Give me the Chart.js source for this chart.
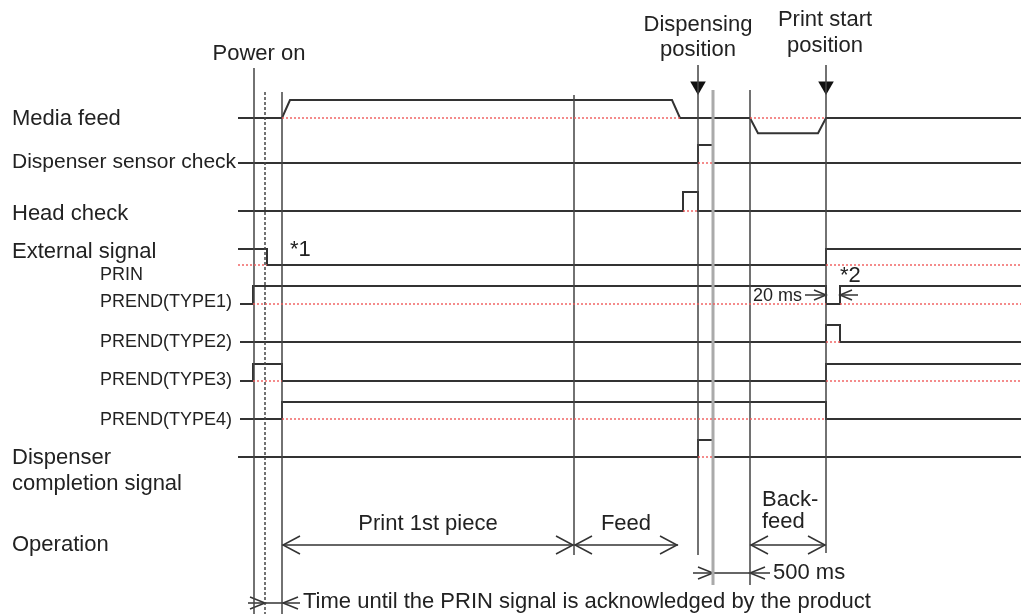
<!DOCTYPE html>
<html lang="en">
<head>
<meta charset="UTF-8">
<meta name="viewport" content="width=device-width, initial-scale=1">
<title>Timing chart</title>
<script src="https://cdn.jsdelivr.net/npm/chart.js@4.4.0/dist/chart.umd.min.js"></script>
<style>
    body { margin: 0; background: #fff; }
    #wrap { width: 1021px; height: 614px; position: relative; }
</style>
</head>
<body>
<div id="wrap"><canvas id="chart"></canvas></div>
<script>
// signal data: transition times (x) and levels (0 = low, 1 = high)
const mediaFeedT = [238, 282, 290, 672, 680, 750, 758, 818, 826, 1021];
const mediaFeedL = [0, 0, 1, 1, 0, 0, -0.85, -0.85, 0, 0];
const sensorT = [238, 698, 698, 713, 713, 1021];
const sensorL = [0, 0, 1, 1, 0, 0];
const headT = [238, 683, 683, 698, 698, 1021];
const headL = [0, 0, 1, 1, 0, 0];
const prinT = [238, 267, 267, 826, 826, 1021];
const prinL = [1, 1, 0, 0, 1, 1];
const type1T = [240, 253, 253, 826, 826, 840, 840, 1021];
const type1L = [0, 0, 1, 1, 0, 0, 1, 1];
const type2T = [240, 826, 826, 840, 840, 1021];
const type2L = [0, 0, 1, 1, 0, 0];
const type3T = [240, 253, 253, 282, 282, 826, 826, 1021];
const type3L = [0, 0, 1, 1, 0, 0, 1, 1];
const type4T = [240, 282, 282, 826, 826, 1021];
const type4L = [0, 0, 1, 1, 0, 0];
const completeT = [238, 698, 698, 713, 713, 1021];
const completeL = [0, 0, 1, 1, 0, 0];

// event lines (power on, PRIN ack, print start, feed, dispensing pos, ..., print start pos)
const markX = [254, 265, 282, 574, 698, 713, 750, 826];
const markTop = [68, 92, 92, 95, 65, 90, 90, 65];
const markBottom = [614, 614, 614, 555, 555, 585, 585, 553];

// operation spans
const opFrom = [282, 574, 750];
const opTo = [574, 678, 826];
const opLabels = ["Print 1st piece", "Feed", ""];

// layout of the rows (baseline y and pulse height)
const rowY = [118, 163, 211, 265, 304, 342, 381, 419, 457];
const rowAmp = [18, 18, 19, 16, 18, 17, 17, 17, 17];
const rows = [
    [mediaFeedT, mediaFeedL], [sensorT, sensorL], [headT, headL], [prinT, prinL],
    [type1T, type1L], [type2T, type2L], [type3T, type3L], [type4T, type4L], [completeT, completeL]
];

const INK = "#333";
const RED = "rgba(240,90,90,0.7)";
const datasets = [];

function line(points, color, width, dash) {
    datasets.push({
        data: points, showLine: true, pointRadius: 0, borderColor: color,
        borderWidth: width, borderDash: dash || [], fill: false
    });
}

// chevron arrow head, dir 1 = pointing right, -1 = pointing left
function chevron(x, y, dir, len, spread) {
    line([{ x: x - dir * len, y: y - spread }, { x: x, y: y }, { x: x - dir * len, y: y + spread }], INK, 1.5);
}

// red dotted reference lines under the pulses
rows.forEach(([t, l], r) => {
    let start = null;
    for (let i = 0; i < t.length - 1; i++) {
        const active = l[i] !== 0 || l[i + 1] !== 0;
        if (active && start === null) start = t[i];
        if (!active && start !== null) {
            line([{ x: start, y: rowY[r] }, { x: t[i], y: rowY[r] }], RED, 2, [2, 2]);
            start = null;
        }
    }
    if (start !== null) line([{ x: start, y: rowY[r] }, { x: t[t.length - 1], y: rowY[r] }], RED, 2, [2, 2]);
});

// vertical event lines
markX.forEach((x, i) => {
    const gray = x === 713;
    line([{ x: x, y: markTop[i] }, { x: x, y: markBottom[i] }], gray ? "#aaa" : "#444", gray ? 3 : 1.5, x === 265 ? [3, 2] : []);
});

// signals
rows.forEach(([t, l], r) => {
    line(t.map((x, i) => ({ x: x, y: rowY[r] - l[i] * rowAmp[r] })), INK, 2);
});

// operation arrows
opFrom.forEach((a, i) => {
    const b = opTo[i];
    line([{ x: a, y: 545 }, { x: b, y: 545 }], INK, 1.5);
    chevron(a + 1, 545, -1, 17, 9);
    chevron(b - 1, 545, 1, 17, 9);
});

// 500 ms dimension
line([{ x: 693, y: 573 }, { x: 770, y: 573 }], INK, 1.5);
chevron(713, 573, 1, 15, 6);
chevron(750, 573, -1, 15, 6);

// PRIN acknowledge dimension
line([{ x: 248, y: 603 }, { x: 300, y: 603 }], INK, 1.5);
chevron(265, 603, 1, 15, 6);
chevron(283, 603, -1, 15, 6);

// 20 ms dimension
line([{ x: 805, y: 295 }, { x: 826, y: 295 }], INK, 1.5);
chevron(826, 295, 1, 12, 5);
line([{ x: 840, y: 295 }, { x: 858, y: 295 }], INK, 1.5);
chevron(840, 295, -1, 12, 5);

// filled arrow heads for the two positions
datasets.push({
    data: [{ x: 698, y: 86 }, { x: 826, y: 86 }], showLine: false,
    pointStyle: "triangle", rotation: 180, pointRadius: 9,
    backgroundColor: "#111", borderColor: "#111", borderWidth: 0
});

// texts, placed in the same units as the data
const texts = [
    ["Power on", 259, 54, "center", 22],
    ["Dispensing", 698, 25, "center", 22],
    ["position", 698, 50, "center", 22],
    ["Print start", 825, 20, "center", 22],
    ["position", 825, 46, "center", 22],
    ["Media feed", 12, 119, "left", 22],
    ["Dispenser sensor check", 12, 162, "left", 21],
    ["Head check", 12, 214, "left", 22],
    ["External signal", 12, 252, "left", 22],
    ["PRIN", 100, 275, "left", 18],
    ["PREND(TYPE1)", 100, 302, "left", 18],
    ["PREND(TYPE2)", 100, 342, "left", 18],
    ["PREND(TYPE3)", 100, 380, "left", 18],
    ["PREND(TYPE4)", 100, 420, "left", 18],
    ["Dispenser", 12, 458, "left", 22],
    ["completion signal", 12, 484, "left", 22],
    ["Operation", 12, 545, "left", 22],
    ["Back-", 762, 500, "left", 22],
    ["feed", 762, 522, "left", 22],
    ["500 ms", 773, 573, "left", 22],
    ["Time until the PRIN signal is acknowledged by the product", 303, 602, "left", 22],
    ["*1", 290, 250, "left", 22],
    ["*2", 840, 276, "left", 22],
    ["20 ms", 753, 296, "left", 18]
];

const textPlugin = {
    id: "texts",
    afterDatasetsDraw(chart) {
        const { ctx, scales } = chart;
        ctx.save();
        ctx.fillStyle = "#222";
        ctx.textBaseline = "middle";
        const draw = (s, x, y, align, size) => {
            ctx.font = size + "px 'Liberation Sans', Arial, sans-serif";
            ctx.textAlign = align;
            ctx.fillText(s, scales.x.getPixelForValue(x), scales.y.getPixelForValue(y));
        };
        texts.forEach(t => draw(...t));
        opLabels.forEach((s, i) => {
            if (s) draw(s, (opFrom[i] + opTo[i]) / 2, 524, "center", 22);
        });
        ctx.restore();
    }
};

new Chart(document.getElementById("chart").getContext("2d"), {
    type: "scatter",
    data: { datasets: datasets },
    options: {
        responsive: true,
        maintainAspectRatio: false,
        animation: false,
        layout: { padding: 0, autoPadding: false },
        plugins: { legend: { display: false }, tooltip: { enabled: false } },
        elements: { line: { tension: 0 } },
        scales: {
            x: { type: "linear", min: 0, max: 1021, display: false },
            y: { type: "linear", min: 0, max: 614, reverse: true, display: false }
        }
    },
    plugins: [textPlugin]
});
</script>
</body>
</html>
